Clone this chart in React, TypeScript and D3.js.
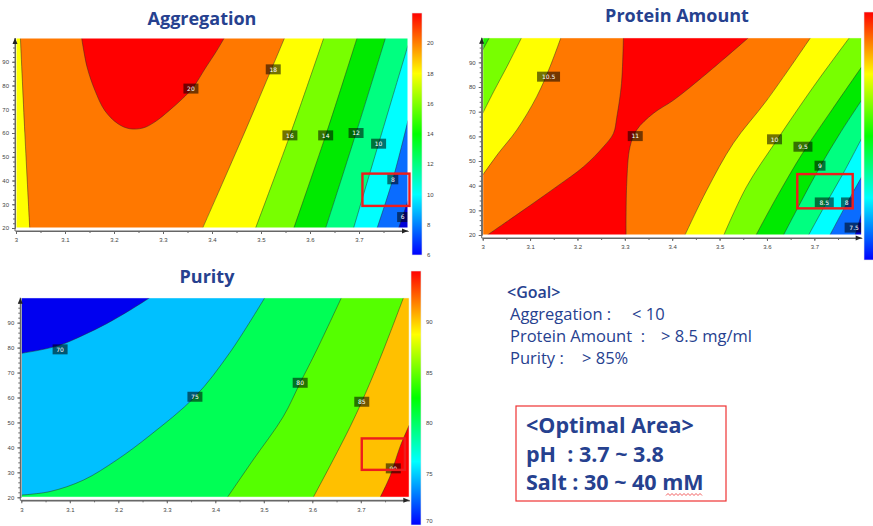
import * as d3 from 'd3';
import React, { useEffect, useRef } from 'react';

type Pt = [number, number];
type Label = [number, number, string];

// shared axes (pH on x, salt mM on y)
const phDomain: Pt = [3, 3.8];
const saltDomain: Pt = [20, 100];
const xTickValues = [3, 3.1, 3.2, 3.3, 3.4, 3.5, 3.6, 3.7];
const yTickValues = [20, 30, 40, 50, 60, 70, 80, 90];
const rainbow = ['#0000ff', '#0080ff', '#00ffff', '#00ff80', '#00ff00', '#80ff00', '#ffff00', '#ff8000', '#ff0000'];

// ---- Aggregation contours ----
const aggLeft18: Pt[] = [[3.009, 100], [3.018, 60], [3.028, 20]];
const agg20: Pt[] = [[3.134, 100], [3.145, 87.8], [3.161, 78], [3.181, 69.5], [3.208, 63.9], [3.232, 61.8],
  [3.259, 62.1], [3.283, 64.6], [3.313, 69.5], [3.34, 74.5], [3.361, 79.1], [3.388, 87.8], [3.408, 94.1], [3.425, 100]];
const agg18: Pt[] = [[3.548, 100], [3.466, 60], [3.381, 20]];
const agg16: Pt[] = [[3.628, 100], [3.559, 59], [3.489, 20]];
const agg14: Pt[] = [[3.696, 100], [3.632, 59], [3.567, 20]];
const agg12: Pt[] = [[3.754, 100], [3.694, 60], [3.632, 20]];
const agg10: Pt[] = [[3.8, 96.9], [3.74, 55.5], [3.689, 20]];
const agg8: Pt[] = [[3.8, 65.3], [3.769, 40.5], [3.737, 20]];
const agg6: Pt[] = [[3.8, 31.6], [3.781, 20]];
const aggLabels: Label[] = [[3.357, 78.7, '20'], [3.525, 86.8, '18'], [3.559, 59, '16'], [3.632, 59, '14'],
  [3.694, 60, '12'], [3.74, 55.5, '10'], [3.769, 40.5, '8'], [3.789, 24.6, '6']];
const aggOptimal = [3.707, 3.803, 29.3, 42.9];
const aggBarDomain: Pt = [6, 22];
const aggBarTicks = [6, 8, 10, 12, 14, 16, 18, 20];

// ---- Protein Amount contours ----
const protL95: Pt[] = [[3.014, 100], [3, 95]];
const protL10: Pt[] = [[3.082, 100], [3.051, 88.2], [3.023, 78.1], [3, 69.3]];
const protL105: Pt[] = [[3.165, 100], [3.142, 88.2], [3.114, 76.1], [3.072, 62.6], [3.033, 53.1], [3, 44.3]];
const protL11: Pt[] = [[3.01, 20], [3.086, 30.1], [3.156, 39.6], [3.213, 47.7], [3.255, 55.8], [3.276, 61.2],
  [3.283, 67.7], [3.293, 81.5], [3.297, 100]];
const protR11: Pt[] = [[3.561, 100], [3.473, 85.5], [3.403, 74.7], [3.36, 69.3], [3.325, 62.6], [3.311, 55.8],
  [3.304, 40.9], [3.3026, 20]];
const protR105: Pt[] = [[3.427, 20], [3.473, 38.2], [3.529, 57.2], [3.6, 74.7], [3.692, 100]];
const protR10: Pt[] = [[3.509, 20], [3.557, 39.6], [3.621, 58.5], [3.698, 80.1], [3.774, 100]];
const prot95: Pt[] = [[3.577, 20], [3.621, 35.5], [3.675, 53.1], [3.737, 70.7], [3.8, 88.2]];
const prot9: Pt[] = [[3.635, 20], [3.67, 32.8], [3.712, 47.7], [3.754, 61.2], [3.8, 74.7]];
const prot85: Pt[] = [[3.688, 20], [3.721, 31.5], [3.761, 45], [3.8, 59.2]];
const prot8: Pt[] = [[3.733, 20], [3.765, 31.5], [3.8, 43.6]];
const prot75: Pt[] = [[3.786, 20], [3.8, 28.8]];
const protLabels: Label[] = [[3.139, 84.2, '10.5'], [3.322, 60.1, '11'], [3.616, 58.8, '10'], [3.676, 55.8, '9.5'],
  [3.712, 48.1, '9'], [3.721, 33.2, '8.5'], [3.768, 33.2, '8'], [3.784, 23, '7.5']];
const protOptimal = [3.664, 3.781, 30.8, 44.7];

// ---- Purity contours ----
const pur70: Pt[] = [[3, 77.7], [3.038, 79], [3.08, 81], [3.128, 85], [3.176, 89.6], [3.224, 95], [3.265, 100]];
const pur75: Pt[] = [[3, 20.9], [3.059, 22.3], [3.128, 26.9], [3.197, 35], [3.265, 44.8], [3.358, 60.3],
  [3.43, 78], [3.502, 100]];
const pur80: Pt[] = [[3.425, 20], [3.478, 35], [3.54, 52.3], [3.575, 65.9], [3.609, 79], [3.66, 100]];
const pur85: Pt[] = [[3.602, 20], [3.643, 35], [3.678, 48.3], [3.702, 58.3], [3.733, 72.4], [3.76, 85.7], [3.788, 100]];
const pur90: Pt[] = [[3.74, 20], [3.76, 28.3], [3.781, 40.3], [3.8, 49]];
const purLabels: Label[] = [[3.08, 79.3, '70'], [3.358, 60.3, '75'], [3.575, 65.9, '80'], [3.702, 58.3, '85'],
  [3.767, 31.6, '90']];
const purOptimal = [3.702, 3.791, 31, 43.6];
const purBarDomain: Pt = [70, 95];
const purBarTicks = [70, 75, 80, 85, 90];

const TL: Pt = [3, 100];
const TR: Pt = [3.8, 100];
const BL: Pt = [3, 20];
const BR: Pt = [3.8, 20];

interface Panel {
  id: string;
  box: { l: number; r: number; t: number; b: number };
  title: string;
  titleX: number;
  titleY: number;
  bg: string;
  layers: { parts: Pt[][]; fill: string }[];
  lines: Pt[][];
  labels: Label[];
  optimal: number[];
  bar: { x: number; t: number; b: number; domain: Pt | null; ticks: number[] };
}

const panels: Panel[] = [
  {
    id: 'agg', box: { l: 16, r: 408, t: 38, b: 228 }, title: 'Aggregation', titleX: 202, titleY: 25,
    bg: '#ff7800',
    layers: [
      { parts: [agg20], fill: '#ff0000' },
      { parts: [aggLeft18, [BL], [TL]], fill: '#ffff00' },
      { parts: [agg18, [BR], [TR]], fill: '#ffff00' },
      { parts: [agg16, [BR], [TR]], fill: '#78ff00' },
      { parts: [agg14, [BR], [TR]], fill: '#00ea00' },
      { parts: [agg12, [BR], [TR]], fill: '#00ff80' },
      { parts: [agg10, [BR]], fill: '#00ffff' },
      { parts: [agg8, [BR]], fill: '#0a6cff' },
      { parts: [agg6, [BR]], fill: '#0000d8' },
    ],
    lines: [aggLeft18, agg20, agg18, agg16, agg14, agg12, agg10, agg8, agg6],
    labels: aggLabels, optimal: aggOptimal,
    bar: { x: 412, t: 13, b: 255, domain: aggBarDomain, ticks: aggBarTicks },
  },
  {
    id: 'prot', box: { l: 482.7, r: 861.7, t: 37.7, b: 235 }, title: 'Protein Amount', titleX: 677, titleY: 22,
    bg: '#ff7800',
    layers: [
      { parts: [protL11, protR11], fill: '#ff0000' },
      { parts: [protL105, [TL]], fill: '#ffff00' },
      { parts: [protL10, [TL]], fill: '#78ff00' },
      { parts: [protL95, [TL]], fill: '#20f000' },
      { parts: [protR105, [TR], [BR]], fill: '#ffff00' },
      { parts: [protR10, [TR], [BR]], fill: '#78ff00' },
      { parts: [prot95, [BR]], fill: '#00ea00' },
      { parts: [prot9, [BR]], fill: '#00ff80' },
      { parts: [prot85, [BR]], fill: '#00ffff' },
      { parts: [prot8, [BR]], fill: '#0a6cff' },
      { parts: [prot75, [BR]], fill: '#0000d8' },
    ],
    lines: [protL95, protL10, protL105, protL11, protR11, protR105, protR10, prot95, prot9, prot85, prot8, prot75],
    labels: protLabels, optimal: protOptimal,
    bar: { x: 864, t: 12, b: 260, domain: null, ticks: [] },
  },
  {
    id: 'pur', box: { l: 21.3, r: 409.3, t: 297.7, b: 497.3 }, title: 'Purity', titleX: 207, titleY: 283,
    bg: '#00c0ff',
    layers: [
      { parts: [pur70, [TL]], fill: '#0000f0' },
      { parts: [pur75, [TR], [BR], [BL]], fill: '#00ff55' },
      { parts: [pur80, [TR], [BR]], fill: '#55ff00' },
      { parts: [pur85, [TR], [BR]], fill: '#ffc000' },
      { parts: [pur90, [BR]], fill: '#ff0000' },
    ],
    lines: [pur70, pur75, pur80, pur85, pur90],
    labels: purLabels, optimal: purOptimal,
    bar: { x: 411, t: 271, b: 525, domain: purBarDomain, ticks: purBarTicks },
  },
];

const navy = '#26418f';
const nb = '\u00a0';

const App = () => {
  const svgRef = useRef<SVGSVGElement>(null);

  useEffect(() => {
    const svg = d3.select(svgRef.current);
    svg.selectAll('.panel').remove();
    const defs = svg.select('defs');
    defs.selectAll('*').remove();

    panels.forEach(p => {
      const { box } = p;
      const x = d3.scaleLinear().domain(phDomain).range([box.l, box.r]);
      const y = d3.scaleLinear().domain(saltDomain).range([box.b, box.t]);
      const curve = d3.line<Pt>().x(d => x(d[0])).y(d => y(d[1])).curve(d3.curveCatmullRom.alpha(0.5));
      const shape = (parts: Pt[][]) => parts.map((pts, i) => {
        if (pts.length === 1) return `L${x(pts[0][0])},${y(pts[0][1])}`;
        const s = curve(pts) || '';
        return i === 0 ? s : 'L' + s.slice(1);
      }).join('') + 'Z';

      const g = svg.append('g').attr('class', 'panel');

      // clip
      defs.append('clipPath').attr('id', `clip-${p.id}`)
        .append('rect').attr('x', box.l).attr('y', box.t).attr('width', box.r - box.l).attr('height', box.b - box.t);

      // title
      g.append('text').attr('x', p.titleX).attr('y', p.titleY).attr('text-anchor', 'middle')
        .attr('font-family', '"Open Sans", sans-serif').attr('font-weight', 700).attr('font-size', 18)
        .attr('fill', navy).text(p.title);

      const plot = g.append('g').attr('clip-path', `url(#clip-${p.id})`);
      plot.append('rect').attr('x', box.l).attr('y', box.t).attr('width', box.r - box.l).attr('height', box.b - box.t)
        .attr('fill', p.bg);
      plot.selectAll('path.band').data(p.layers).enter().append('path').attr('class', 'band')
        .attr('d', d => shape(d.parts)).attr('fill', d => d.fill);
      plot.selectAll('path.contour').data(p.lines).enter().append('path').attr('class', 'contour')
        .attr('d', d => curve(d)).attr('fill', 'none').attr('stroke', '#2a2a2a').attr('stroke-width', 0.6)
        .attr('stroke-opacity', 0.8);

      // contour labels
      const lab = plot.selectAll('g.lab').data(p.labels).enter().append('g').attr('class', 'lab')
        .attr('transform', d => `translate(${x(d[0])},${y(d[1])})`);
      lab.append('rect').attr('x', d => -(3.5 + d[2].length * 2)).attr('y', -5)
        .attr('width', d => 7 + d[2].length * 4).attr('height', 10).attr('fill', '#000').attr('fill-opacity', 0.55);
      lab.append('text').attr('text-anchor', 'middle').attr('dy', 2.2).attr('font-size', 6)
        .attr('font-family', '"DejaVu Sans", sans-serif').attr('fill', '#fff').text(d => d[2]);

      // white frame
      g.append('rect').attr('x', box.l).attr('y', box.t).attr('width', box.r - box.l).attr('height', box.b - box.t)
        .attr('fill', 'none').attr('stroke', '#fff').attr('stroke-width', 1);

      // optimal area
      const [ox0, ox1, oy0, oy1] = p.optimal;
      g.append('rect').attr('x', x(ox0)).attr('y', y(oy1)).attr('width', x(ox1) - x(ox0)).attr('height', y(oy0) - y(oy1))
        .attr('fill', 'none').attr('stroke', '#ee1c1c').attr('stroke-width', 2.4);

      // axes
      const axisY = box.b + 3;
      const axisX = box.l - 1;
      const gx = g.append('g').attr('transform', `translate(0,${axisY})`);
      gx.call(d3.axisBottom(x).tickValues(d3.range(3, 3.8, 0.05)).tickSize(2).tickSizeOuter(0).tickFormat(() => ''));
      gx.call(g2 => g2.append('g').call(d3.axisBottom(x).tickValues(xTickValues).tickSize(3).tickSizeOuter(0)
        .tickFormat(d => String(d))));
      const gy = g.append('g').attr('transform', `translate(${axisX},0)`);
      gy.call(d3.axisLeft(y).tickValues(d3.range(20, 100, 2)).tickSize(2).tickSizeOuter(0).tickFormat(() => ''));
      gy.call(g2 => g2.append('g').call(d3.axisLeft(y).tickValues(yTickValues).tickSize(3).tickSizeOuter(0)
        .tickFormat(d => String(d))));
      g.selectAll('.domain').attr('stroke', '#666');
      g.selectAll('.tick line').attr('stroke', '#666');
      g.selectAll('.tick text').attr('font-size', 6).attr('fill', '#444')
        .attr('font-family', '"Liberation Sans", sans-serif');
      gx.selectAll('.tick text').attr('dy', '0.9em');
      g.append('line').attr('x1', axisX).attr('x2', axisX).attr('y1', axisY).attr('y2', box.t).attr('stroke', '#666');
      g.append('line').attr('x1', axisX).attr('x2', box.r).attr('y1', axisY).attr('y2', axisY).attr('stroke', '#666');
      g.append('path').attr('d', `M${axisX - 2.5},${box.t + 6}L${axisX},${box.t}L${axisX + 2.5},${box.t + 6}Z`).attr('fill', '#222');
      g.append('path').attr('d', `M${box.r - 6},${axisY - 2.5}L${box.r},${axisY}L${box.r - 6},${axisY + 2.5}Z`).attr('fill', '#222');

      // colour bar
      const grad = defs.append('linearGradient').attr('id', `grad-${p.id}`)
        .attr('x1', 0).attr('y1', 1).attr('x2', 0).attr('y2', 0);
      rainbow.forEach((c, i) => grad.append('stop').attr('offset', i / (rainbow.length - 1)).attr('stop-color', c));
      const bar = p.bar;
      g.append('rect').attr('x', bar.x).attr('y', bar.t).attr('width', 10).attr('height', bar.b - bar.t)
        .attr('fill', `url(#grad-${p.id})`).attr('stroke', '#e4e4e4').attr('stroke-width', 0.6);
      if (bar.domain) {
        const cb = d3.scaleLinear().domain(bar.domain).range([bar.b, bar.t]);
        g.selectAll('text.cb').data(bar.ticks).enter().append('text').attr('class', 'cb')
          .attr('x', bar.x + 15).attr('y', d => Math.min(cb(d) + 2, 523))
          .attr('font-size', 6).attr('fill', '#444')
          .attr('font-family', '"Liberation Sans", sans-serif').text(d => String(d));
      }
    });
  }, []);

  const squiggle = d3.range(0, 19).map(i => `${i === 0 ? 'M' : 'L'}${666 + i * 2},${i % 2 ? 493.5 : 495.5}`).join('');

  return (
    <svg ref={svgRef} width={873} height={526} style={{ position: 'absolute', left: 0, top: 0, background: '#fff' }}>
      <defs />
      <g fontFamily='"Open Sans", sans-serif' fill={navy}>
        <text x={507} y={298} fontSize={16} fontWeight={600}>&lt;Goal&gt;</text>
        <text x={510} y={320} fontSize={16.5}>Aggregation :</text>
        <text x={632} y={320} fontSize={16.5}>&lt; 10</text>
        <text x={510} y={342} fontSize={16.5}>{`Protein Amount${nb}${nb}:`}</text>
        <text x={661} y={342} fontSize={16.5}>&gt; 8.5 mg/ml</text>
        <text x={510} y={364} fontSize={16.5}>Purity :</text>
        <text x={582} y={364} fontSize={16.5}>&gt; 85%</text>
        <rect x={516} y={406} width={210} height={95} fill="none" stroke="#e33" strokeWidth={1.2} />
        <text x={526} y={433} fontSize={21.5} fontWeight={700}>&lt;Optimal Area&gt;</text>
        <text x={526} y={462} fontSize={21.5} fontWeight={700}>{`pH${nb}${nb}: 3.7 ~ 3.8`}</text>
        <text x={526} y={490} fontSize={21.5} fontWeight={700}>Salt : 30 ~ 40 mM</text>
        <path d={squiggle} fill="none" stroke="#e33" strokeWidth={0.8} />
      </g>
    </svg>
  );
};

export default App;
